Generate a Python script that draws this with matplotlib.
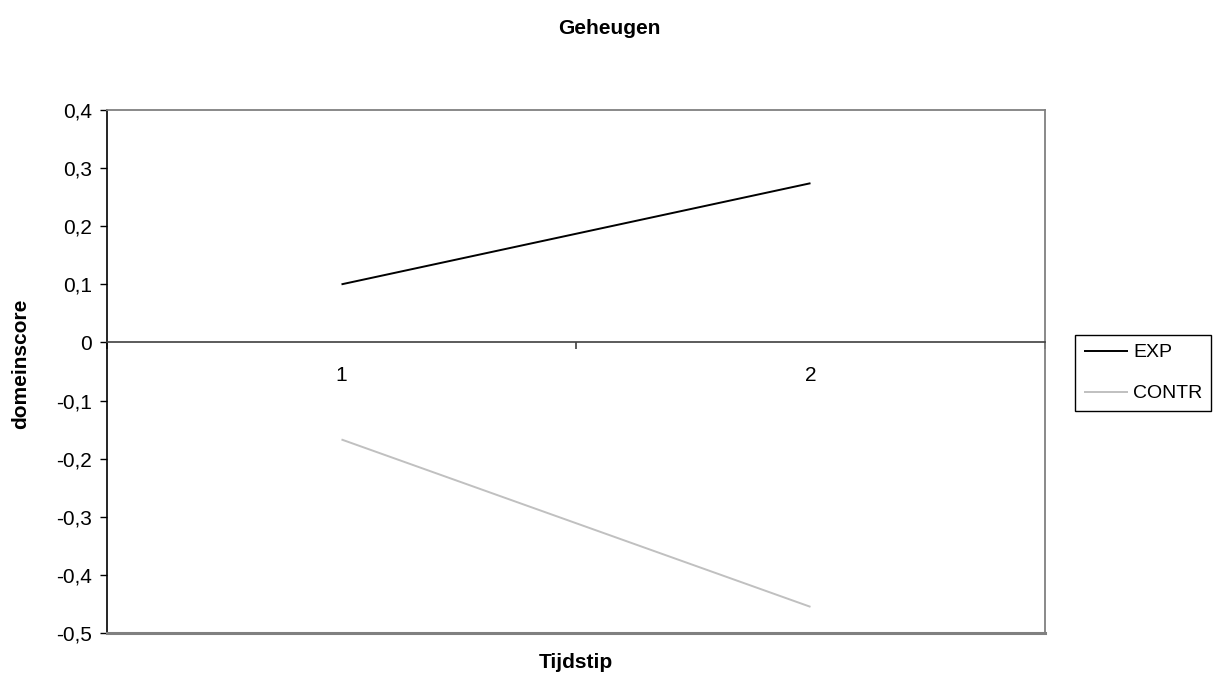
import matplotlib
matplotlib.use("Agg")
import matplotlib.pyplot as plt

# ---- data ----
title = "Geheugen"
x_label = "Tijdstip"
y_label = "domeinscore"
categories = ["1", "2"]
series_names = ["EXP", "CONTR"]
exp_values = [0.10, 0.274]
contr_values = [-0.167, -0.455]
y_ticks = [0.4, 0.3, 0.2, 0.1, 0.0, -0.1, -0.2, -0.3, -0.4, -0.5]
y_tick_labels = ["0,4", "0,3", "0,2", "0,1", "0", "-0,1", "-0,2", "-0,3", "-0,4", "-0,5"]

font = "Liberation Sans"
plt.rcParams["font.family"] = [font, "DejaVu Sans"]

W, H = 1219, 686
fig = plt.figure(figsize=(W / 100, H / 100), dpi=100)
L, R, T, B = 107, 1045, 110, 633
ax = fig.add_axes([L / W, 1 - B / H, (R - L) / W, (B - T) / H])

xpos = list(range(1, len(categories) + 1))
colors = ["#000000", "#c0c0c0"]
for vals, name, c in zip([exp_values, contr_values], series_names, colors):
    ax.plot(xpos, vals, color=c, lw=1.4, label=name, solid_capstyle="butt")

ax.set_xlim(0.5, len(categories) + 0.5)
ax.set_ylim(-0.5, 0.4)

# spines
for s in ["top", "right"]:
    ax.spines[s].set_color("#808080")
    ax.spines[s].set_linewidth(1.3)
ax.spines["left"].set_color("#000000")
ax.spines["left"].set_linewidth(1.2)
ax.spines["bottom"].set_position(("data", 0))
ax.spines["bottom"].set_color("#404040")
ax.spines["bottom"].set_linewidth(1.2)
ax.plot([0, 1], [0, 0], transform=ax.transAxes, color="#808080", lw=2.2,
        clip_on=False, zorder=3)

ax.set_yticks(y_ticks)
ax.set_yticklabels(y_tick_labels)
ax.tick_params(axis="y", length=5, width=1, color="#000000", pad=6, labelsize=15)

ax.set_xticks(xpos)
ax.set_xticklabels(categories)
ax.tick_params(axis="x", which="major", length=0, pad=17, labelsize=15)
ax.set_xticks([p + 0.5 for p in [0] + xpos], minor=True)
ax.tick_params(axis="x", which="minor", length=5, width=1.2, color="#404040",
               direction="out")

fig.text(0.5, 1 - 29 / H, title, ha="center", va="center", fontsize=15,
         fontweight="bold")
fig.text((L + R) / 2 / W, 1 - 662 / H, x_label, ha="center", va="center",
         fontsize=15, fontweight="bold")
fig.text(21 / W, 1 - 364 / H, y_label, ha="center", va="center", rotation=90,
         fontsize=15, fontweight="bold")

leg = fig.legend(loc="upper left", bbox_to_anchor=(1075 / W, 1 - 335 / H),
                 frameon=True, fancybox=False, edgecolor="#000000",
                 framealpha=1, borderpad=0.45, handlelength=2.3,
                 handletextpad=0.25, labelspacing=1.2, borderaxespad=0,
                 prop={"family": font, "size": 14})
leg.get_frame().set_linewidth(1.0)

fig.savefig("out.png", dpi=100)
